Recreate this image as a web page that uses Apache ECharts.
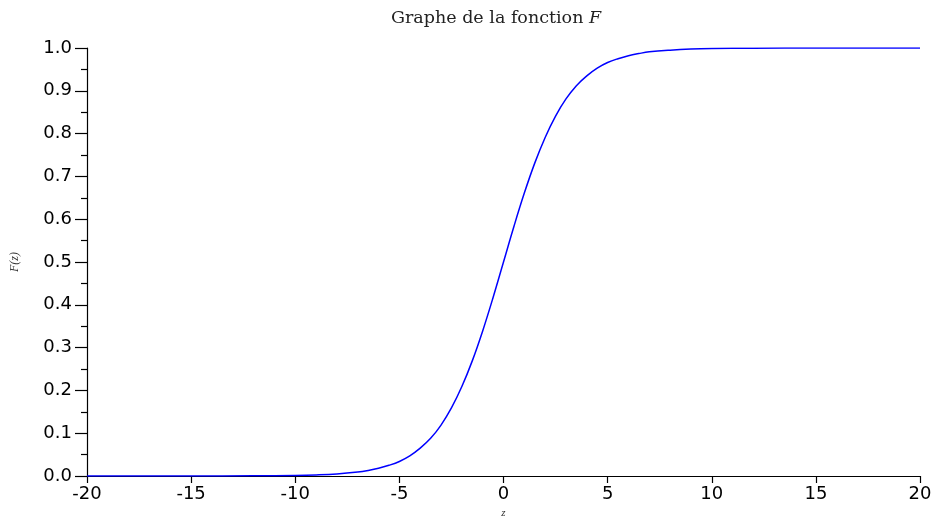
<!DOCTYPE html>
<html><head><meta charset="utf-8">
<script src="https://cdn.jsdelivr.net/npm/echarts@6/dist/echarts.min.js"></script>
<style>html,body{margin:0;padding:0;background:#fff}#c{width:932px;height:520px}</style>
</head><body><div id="c"></div>
<script>
const zValues = [-20,-15,-12,-10,-9,-8,-7,-6.5,-6,-5.5,-5,-4.5,-4,-3.5,-3,-2.5,-2,-1.5,-1,-0.5,0,0.5,1,1.5,2,2.5,3,3.5,4,4.5,5,5.5,6,6.5,7,8,9,10,12,15,20];
const fValues = [0.0000,0.0000,0.0003,0.0013,0.0025,0.0048,0.0093,0.013,0.018,0.025,0.034,0.047,0.065,0.088,0.119,0.159,0.209,0.269,0.339,0.417,0.5,0.583,0.661,0.731,0.791,0.841,0.881,0.912,0.935,0.953,0.966,0.975,0.982,0.987,0.991,0.995,0.9975,0.9987,0.9997,1.0,1.0];
const titleText = 'Graphe de la fonction ';
const titleVar = 'F';
const xName = 'z';
const yName = 'F(z)';

const chart = echarts.init(document.getElementById('c'));
chart.setOption({
  animation: false,
  backgroundColor: '#fff',
  title: {
    text: '{a|' + titleText + '}{b|' + titleVar + '}',
    left: 386, top: 4,
    textStyle: {
      fontWeight: 'normal',
      rich: {
        a: {fontFamily: 'DejaVu Serif', fontWeight: 'normal', fontSize: 17.5, color: '#222'},
        b: {fontFamily: 'DejaVu Serif', fontWeight: 'normal', fontStyle: 'italic', fontSize: 17.5, color: '#222'}
      }
    }
  },
  grid: {left: 87, right: 12, top: 48, bottom: 44, containLabel: false, outerBoundsMode: 'none'},
  xAxis: {
    type: 'value', min: -20, max: 20, interval: 5,
    name: xName, nameLocation: 'middle', nameGap: 29,
    nameTextStyle: {fontFamily: 'Liberation Serif', fontStyle: 'italic', fontSize: 11, color: '#333'},
    axisLine: {show: true, onZero: false, lineStyle: {color: '#000', width: 1.2}},
    axisTick: {show: true, length: 7, lineStyle: {color: '#000', width: 1.2}},
    axisLabel: {fontFamily: 'DejaVu Sans', fontSize: 18, color: '#000', margin: 9},
    splitLine: {show: false}
  },
  yAxis: {
    type: 'value', min: 0, max: 1, interval: 0.1,
    name: yName, nameLocation: 'middle', nameGap: 66, nameRotate: 90,
    nameTextStyle: {fontFamily: 'Liberation Serif', fontStyle: 'italic', fontSize: 12, color: '#333'},
    axisLine: {show: true, onZero: false, lineStyle: {color: '#000', width: 1.2}},
    axisTick: {show: true, length: 12, lineStyle: {color: '#000', width: 1.2}},
    minorTick: {show: true, splitNumber: 2, length: 6, lineStyle: {color: '#000', width: 1.2}},
    axisLabel: {fontFamily: 'DejaVu Sans', fontSize: 18, color: '#000', margin: 15,
      formatter: v => v.toFixed(1)},
    splitLine: {show: false}
  },
  series: [{
    type: 'line',
    data: zValues.map((z, i) => [z, fValues[i]]),
    smooth: 0.4,
    showSymbol: false,
    lineStyle: {color: '#0000ff', width: 1.5}
  }]
});
</script>
</body></html>
